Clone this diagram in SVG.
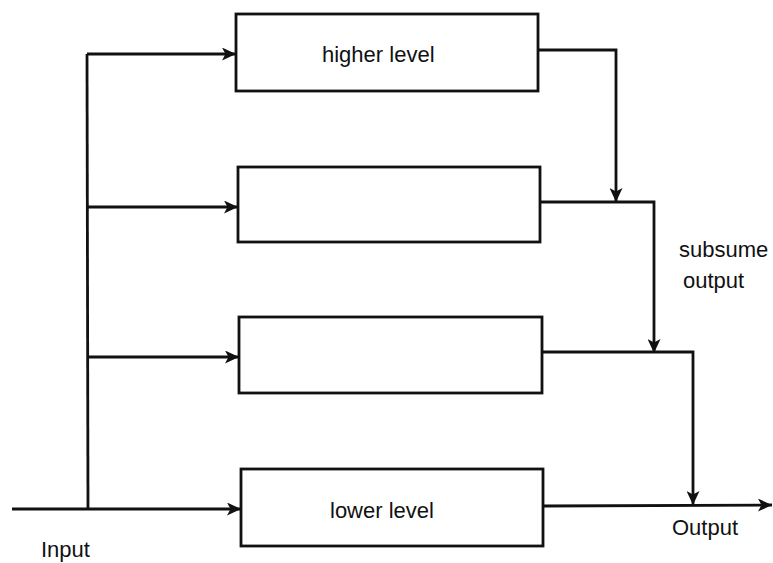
<svg xmlns="http://www.w3.org/2000/svg" width="773" height="563" viewBox="0 0 773 563">
  <style>
    .box { fill: #ffffff; stroke: #111111; stroke-width: 2.8; }
    .wire { fill: none; stroke: #111111; stroke-width: 2.8; stroke-linejoin: miter; }
    .label { font-family: "Liberation Sans", Arial, sans-serif; font-size: 22px; fill: #111111; }
  </style>
  <defs>
    <marker id="arrow" viewBox="0 0 14 13" refX="14" refY="6.5" markerWidth="14" markerHeight="13" markerUnits="userSpaceOnUse" orient="auto">
      <path d="M0,0 L14,6.5 L0,13 L3.5,6.5 Z" fill="#111111"/>
    </marker>
  </defs>
  <rect width="773" height="563" fill="#ffffff"/>

  <!-- behaviour layers -->
  <g id="layer-higher">
    <rect class="box" x="236" y="14" width="302" height="77"/>
    <text class="label" x="322" y="62">higher level</text>
  </g>
  <g id="layer-2">
    <rect class="box" x="238" y="167" width="302" height="75"/>
  </g>
  <g id="layer-3">
    <rect class="box" x="239" y="317" width="303" height="76"/>
  </g>
  <g id="layer-lower">
    <rect class="box" x="241" y="469" width="302" height="77"/>
    <text class="label" x="330" y="518">lower level</text>
  </g>

  <!-- signal wiring -->
  <g id="connectors">
    <!-- input bus -->
    <path class="wire" d="M12,509 L88,509"/>
    <path class="wire" d="M87,54 L88,509"/>
    <path class="wire" d="M87,54 L236,54" marker-end="url(#arrow)"/>
    <path class="wire" d="M87,207 L238,207" marker-end="url(#arrow)"/>
    <path class="wire" d="M88,357 L239,357" marker-end="url(#arrow)"/>
    <path class="wire" d="M88,509 L241,509" marker-end="url(#arrow)"/>
    <!-- subsumption outputs -->
    <path class="wire" d="M538,50 L616,50 L616,202" marker-end="url(#arrow)"/>
    <path class="wire" d="M540,202 L654,202 L654,353" marker-end="url(#arrow)"/>
    <path class="wire" d="M542,352 L693,352 L693,505" marker-end="url(#arrow)"/>
    <path class="wire" d="M543,506 L772,505" marker-end="url(#arrow)"/>
  </g>

  <g id="annotations">
    <text class="label" x="679" y="257">subsume</text>
    <text class="label" x="683" y="288">output</text>
    <text class="label" x="672" y="535">Output</text>
    <text class="label" x="41" y="557">Input</text>
  </g>
</svg>
